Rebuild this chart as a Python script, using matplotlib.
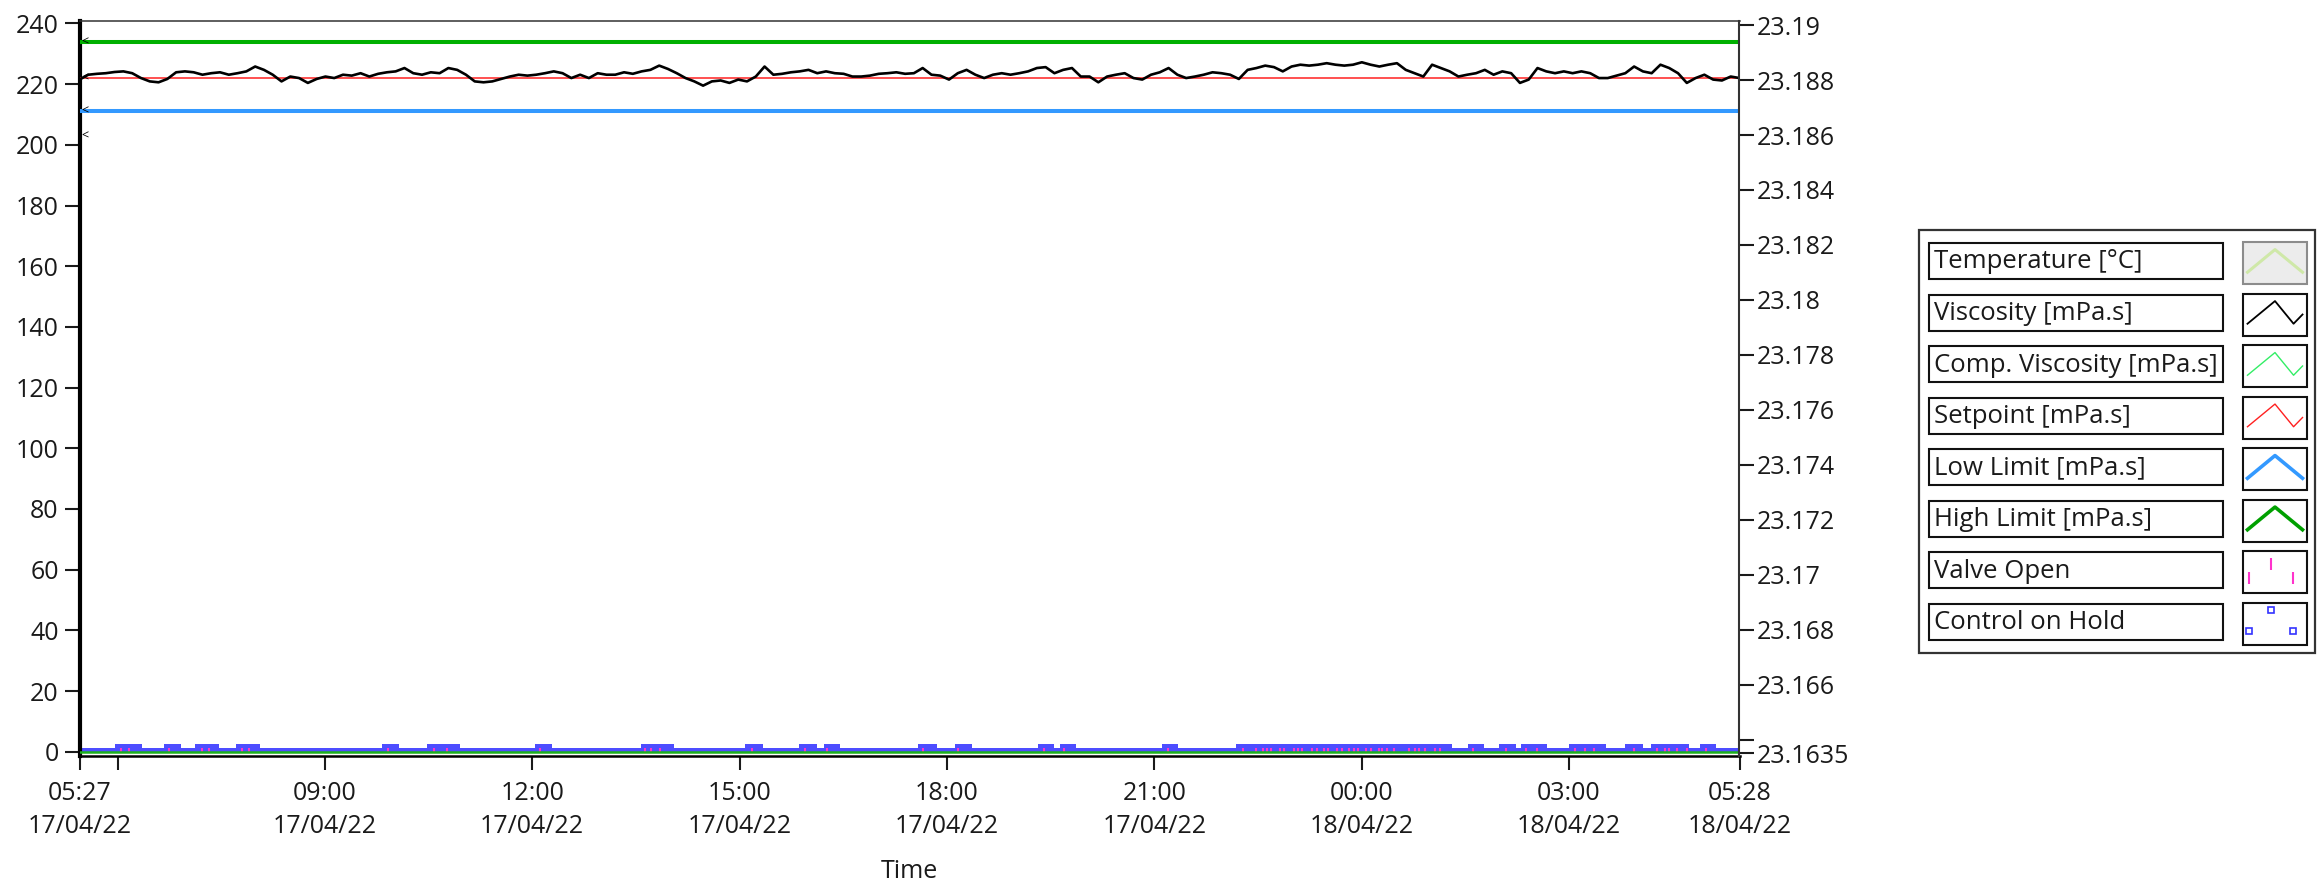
import matplotlib
matplotlib.use("Agg")
import matplotlib.pyplot as plt
import matplotlib.dates as mdates
from matplotlib.patches import Rectangle
import pandas as pd

plt.rcParams['font.family'] = ['Open Sans', 'DejaVu Sans']

# ---- data ----
t_start = pd.Timestamp('2022-04-17 05:27')
t_end = pd.Timestamp('2022-04-18 05:28')

viscosity = [
    221.5, 223.1, 223.4, 223.6, 224.0, 224.2, 223.6, 222.0, 220.9, 220.6,
    221.7, 223.9, 224.2, 223.9, 223.1, 223.6, 223.9, 223.1, 223.6, 224.2,
    225.8, 224.7, 223.1, 220.9, 222.5, 222.0, 220.4, 221.7, 222.5, 222.0,
    223.1, 222.8, 223.6, 222.5, 223.4, 223.9, 224.2, 225.3, 223.6, 223.1,
    223.9, 223.6, 225.3, 224.7, 223.1, 220.9, 220.6, 220.9, 221.7, 222.5,
    223.1, 222.8, 223.1, 223.6, 224.2, 223.6, 222.0, 223.1, 222.0, 223.6,
    223.1, 223.1, 223.9, 223.4, 224.2, 224.7, 226.1, 225.0, 223.6, 222.0,
    220.9, 219.5, 220.9, 221.2, 220.4, 221.5, 220.9, 222.5, 225.8, 223.1,
    223.4, 223.9, 224.2, 224.7, 223.6, 224.2, 223.6, 223.4, 222.5, 222.5,
    222.8, 223.4, 223.6, 223.9, 223.4,
    223.6, 225.3, 223.1, 222.8, 221.5, 223.6, 224.7, 223.1, 222.0, 223.1,
    223.6, 223.1, 223.6, 224.2, 225.3, 225.6, 223.6, 224.7, 225.3, 222.5,
    222.5, 220.6, 222.5, 223.1, 223.6, 222.0, 221.5, 223.1, 223.9, 225.3,
    223.1, 222.0, 222.5, 223.1, 223.9, 223.6, 223.1, 221.7, 224.7, 225.3,
    226.1, 225.6, 224.2, 225.8, 226.4, 226.1, 226.4, 226.9,
    226.4, 226.1, 226.4, 227.2, 226.4, 225.8, 226.4, 226.9, 224.7, 223.6,
    222.5, 226.4, 225.3, 224.2, 222.5, 223.1, 223.6, 224.7, 223.1, 224.2,
    223.6, 220.4, 221.5, 225.3, 224.2, 223.6, 224.2, 223.6, 224.2, 223.6,
    222.0, 222.0, 222.8, 223.6, 225.8, 224.2, 223.6, 226.4, 225.3, 223.6,
    220.4, 222.0, 223.1, 221.5, 221.2, 222.5, 222.0,
]
setpoint = 222
low_limit = 211
high_limit = 234
comp_viscosity = 0
cursor_values = [234, 222, 211, 203]

# Control on Hold periods, minutes after start
hold_start_min = [31, 73, 100, 136, 263, 302, 395, 487, 578, 625, 646, 728,
                  760, 832, 851, 940, 1004, 1205, 1232, 1251, 1293, 1342, 1364, 1407]
hold_end_min = [54, 88, 121, 157, 277, 330, 410, 516, 593, 640, 660, 744,
                775, 846, 865, 954, 1191, 1219, 1247, 1274, 1325, 1357, 1397, 1421]
hold_base = 1.3
hold_high = 2.4

# Valve open events, minutes after start
valve_open_min = [36, 43, 78, 106, 112, 141, 147, 268, 308, 319, 400, 491, 496,
                  504, 584, 630, 649, 732, 763, 837, 855, 945, 1010, 1021, 1027,
                  1031, 1034, 1042, 1046, 1054, 1058, 1061, 1070, 1074, 1080,
                  1084, 1092, 1096, 1102, 1106, 1110, 1117, 1121, 1128, 1131,
                  1135, 1141, 1154, 1159, 1163, 1168, 1177, 1181, 1210, 1238,
                  1256, 1265, 1298, 1307, 1315, 1349, 1369, 1376, 1380, 1387,
                  1395, 1412]
valve_level = 0.5

xtick_times = ['2022-04-17 05:27', '2022-04-17 06:00', '2022-04-17 09:00',
               '2022-04-17 12:00', '2022-04-17 15:00', '2022-04-17 18:00',
               '2022-04-17 21:00', '2022-04-18 00:00', '2022-04-18 03:00',
               '2022-04-18 05:28']
xtick_hidden = ['2022-04-17 06:00']
left_ticks = list(range(0, 241, 20))
right_ticks = [23.19, 23.188, 23.186, 23.184, 23.182, 23.18, 23.178, 23.176,
               23.174, 23.172, 23.17, 23.168, 23.166, 23.164, 23.1635]
right_labels = ['23.19', '23.188', '23.186', '23.184', '23.182', '23.18',
                '23.178', '23.176', '23.174', '23.172', '23.17', '23.168',
                '23.166', '', '23.1635']

legend_names = ['Temperature [°C]', 'Viscosity [mPa.s]', 'Comp. Viscosity [mPa.s]',
                'Setpoint [mPa.s]', 'Low Limit [mPa.s]', 'High Limit [mPa.s]',
                'Valve Open', 'Control on Hold']

# ---- figure ----
W, H = 2318, 883
fig = plt.figure(figsize=(W / 100, H / 100), dpi=100)
ax_l, ax_r, ax_t, ax_b = 79.5, 1739.5, 20.7, 756
ax = fig.add_axes([ax_l / W, (H - ax_b) / H, (ax_r - ax_l) / W, (ax_b - ax_t) / H])

times = pd.date_range(t_start, t_end, periods=len(viscosity))
tc = '#1a1a1a'

# control on hold band + valve ticks
x0 = mdates.date2num(t_start)
span = mdates.date2num(t_end) - x0
ax.broken_barh([(x0, span)], (0, hold_base), facecolors='#4d4dff', zorder=2)
hold_ranges = [(x0 + s / 1440, (e - s) / 1440) for s, e in zip(hold_start_min, hold_end_min)]
ax.broken_barh(hold_ranges, (0, hold_high), facecolors='#4d4dff', zorder=2)
valve_times = t_start + pd.to_timedelta(valve_open_min, unit='min')
ax.plot(valve_times, [valve_level] * len(valve_times), ls='none', marker='|',
        ms=2.5, mew=1.5, color='#ff33cc', zorder=3)
ax.plot([t_start, t_end], [comp_viscosity] * 2, color='#1db21d', lw=1.8, zorder=3)

# limits, setpoint, viscosity
ax.plot([t_start, t_end], [high_limit] * 2, color='#00b000', lw=2.9, zorder=3)
ax.plot([t_start, t_end], [low_limit] * 2, color='#3399ff', lw=2.9, zorder=3)
ax.plot([t_start, t_end], [setpoint] * 2, color='#ff2020', lw=1.1, zorder=3)
ax.plot(times, viscosity, color='black', lw=1.9, zorder=4)

for v in cursor_values:
    ax.annotate('<', xy=(t_start, v), xytext=(4, 0), textcoords='offset points',
                ha='center', va='center', fontsize=9, color='black', zorder=5)

ax.set_xlim(t_start, t_end)
ax.set_ylim(-1.4, 240.9)
ax.set_yticks(left_ticks)
ticks_dt = pd.to_datetime(xtick_times)
ax.set_xticks(ticks_dt)
ax.set_xticklabels(['' if str(t)[:16] in xtick_hidden else t.strftime('%H:%M\n%d/%m/%y')
                    for t in ticks_dt], linespacing=1.4)
ax.tick_params(axis='x', direction='out', length=10, width=1.5, pad=8,
               labelsize=18, colors=tc)
ax.tick_params(axis='y', direction='out', length=11, width=1.5, pad=4,
               labelsize=18, colors=tc)
ax.set_xlabel('Time', fontsize=18, color=tc, labelpad=15)

ax.spines['left'].set_linewidth(3.0)
ax.spines['left'].set_color('black')
ax.spines['bottom'].set_linewidth(1.8)
ax.spines['bottom'].set_color('black')
ax.spines['top'].set_linewidth(1.1)
ax.spines['top'].set_color('#333333')
ax.spines['right'].set_visible(False)

ax2 = ax.twinx()
ax2.set_ylim(23.1634, 23.19016)
ax2.set_yticks(right_ticks)
ax2.set_yticklabels(right_labels)
ax2.tick_params(axis='y', direction='out', length=11, width=1.5, pad=1.5,
                labelsize=18, colors=tc)
for s in ['left', 'top', 'bottom']:
    ax2.spines[s].set_visible(False)
ax2.spines['right'].set_linewidth(1.5)
ax2.spines['right'].set_color('#333333')

# ---- legend panel drawn in pixel coordinates ----
lg = fig.add_axes([0, 0, 1, 1], zorder=10)
lg.set_xlim(0, W)
lg.set_ylim(H, 0)
lg.axis('off')
lg.patch.set_alpha(0)
lg.add_patch(Rectangle((1919, 230), 396, 423, fill=False, ec='#333333', lw=1.6))

zig_x = [0.07, 0.5, 0.79, 0.93]
zig_y = [0.72, 0.18, 0.72, 0.5]
peak_x = [0.07, 0.5, 0.93]
peak_y = [0.72, 0.18, 0.72]
styles = [
    ('peak', '#cfe8a8', 2.2),
    ('zig', 'black', 1.3),
    ('zig', '#33ee66', 1.0),
    ('zig', '#ff2020', 1.0),
    ('peak', '#3399ff', 2.6),
    ('peak', '#00a000', 2.6),
    ('valve', '#ff33cc', 1.5),
    ('hold', '#3333ff', 1.2),
]
bx, bw, ix, iw, ih = 1929, 294, 2243, 64, 42
for i, (name, (kind, col, lw)) in enumerate(zip(legend_names, styles)):
    top = 243 + i * 51.5
    lg.add_patch(Rectangle((bx, top), bw, 36, fill=False, ec='#111111', lw=1.5))
    lg.text(bx + 5, top + 19, name, fontsize=18.5, color=tc, va='center', ha='left')
    itop = top - 1
    if i == 0:
        lg.add_patch(Rectangle((ix, itop), iw, ih, fc='#ececec', ec='#8c8c8c', lw=1.5))
    else:
        lg.add_patch(Rectangle((ix, itop), iw, ih, fill=False, ec='#111111', lw=1.5))
    if kind == 'zig':
        lg.plot([ix + iw * f for f in zig_x], [itop + ih * f for f in zig_y], color=col, lw=lw)
    elif kind == 'peak':
        lg.plot([ix + iw * f for f in peak_x], [itop + ih * f for f in peak_y], color=col, lw=lw)
    elif kind == 'valve':
        lg.plot([ix + iw * f for f in [0.09, 0.43, 0.78]],
                [itop + ih * f for f in [0.65, 0.3, 0.65]],
                ls='none', marker='|', ms=9, mew=lw, color=col)
    else:
        lg.plot([ix + iw * f for f in [0.1, 0.43, 0.78]],
                [itop + ih * f for f in [0.67, 0.17, 0.67]],
                ls='none', marker='s', ms=5, mfc='none', mew=lw, color=col)

fig.savefig('out.png', dpi=100)
